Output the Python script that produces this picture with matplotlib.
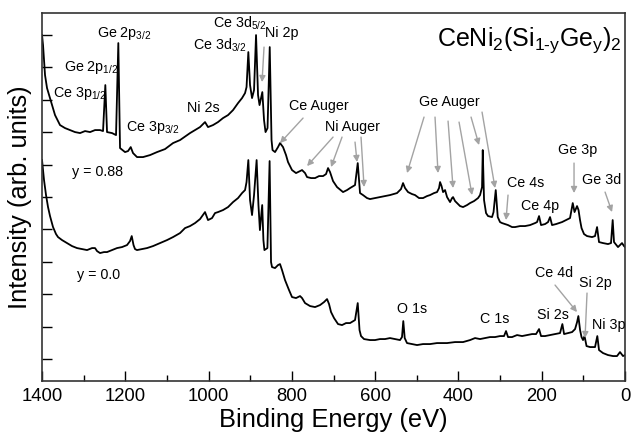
import matplotlib
matplotlib.use("Agg")
import matplotlib.pyplot as plt
from matplotlib.ticker import MultipleLocator, NullFormatter

plt.rcParams['font.family'] = ['Liberation Sans', 'DejaVu Sans']
plt.rcParams['mathtext.fontset'] = 'custom'
plt.rcParams['mathtext.rm'] = 'Liberation Sans'
plt.rcParams['mathtext.it'] = 'Liberation Sans:italic'

### spectrum y = 0.88 (binding energy in eV, intensity in arb. units) ###
be_088 = [1400, 1397.6, 1392.8, 1388, 1380.8, 1368.8, 1356.8, 1344.8, 1332.8, 1320.8,
          1308.7, 1296.7, 1284.7, 1272.7, 1260.7, 1253.5, 1248, 1243.9, 1231.9, 1222.3,
          1216.8, 1212.7, 1200.7, 1193.5, 1187, 1181.5, 1171.9, 1157.4, 1140.6, 1123.8,
          1104.6, 1085.4, 1068.6, 1044.6, 1032.6, 1020.6, 1008.6, 1001.4, 989.4, 977.4,
          965.4, 953.3, 941.3, 929.3, 919.7, 912.5, 908.9, 904.6, 900.5, 895.7,
          890.9, 886.1, 881.3, 877.7, 871, 866.9, 863.3, 858.5, 853.2, 848.9,
          846.5, 840.5, 833.3, 828.5, 821.3, 814.1, 809.3, 799.7, 790.1, 780.4,
          775.6, 768.4, 763.6, 754, 744.4, 734.8, 725.2, 718, 713.2, 708.4,
          701.2, 691.6, 677.2, 667.6, 660.4, 648.4, 641.9, 636.4, 629.2, 619.6,
          612.4, 600.4, 588.4, 576.4, 564.4, 547.6, 538, 533.1, 528.3, 521.1,
          511.5, 504.3, 494.7, 485.1, 475.5, 468.3, 458.7, 451.5, 446.7, 444.2,
          440.6, 437, 432.2, 427.4, 420.2, 415.4, 413, 408.2, 403.4, 396.2,
          389, 379.4, 372.2, 362.6, 353, 348.2, 343.4, 341.7, 338.6, 333.8,
          329, 319.4, 315.8, 310.5, 305.7, 300.2, 295.4, 288.2, 281, 271.3,
          264.1, 252.1, 240.1, 228.1, 216.1, 211.3, 206.5, 201.7, 192.1, 184.9,
          180.1, 175.3, 165.7, 151.3, 141.7, 132.1, 128.5, 125.6, 121.3, 115.3,
          111.7, 108.1, 104.5, 98.5, 91.3, 79.3, 72.1, 67.2, 62.5, 52.9,
          40.9, 33.7, 29.7, 26.5, 16.9, 12.1, 7.3, 2.5, 0]
int_088 = [346, 336, 306, 293, 283, 266, 256, 253, 251, 249,
           248, 250, 249, 251, 251, 250, 296, 249, 248, 246,
           338, 233, 229, 230, 234, 228, 224, 224, 226, 229,
           232, 238, 241, 248, 251, 254, 259, 254, 256, 259,
           263, 266, 271, 278, 283, 288, 294, 329, 296, 283,
           291, 346, 286, 276, 289, 261, 249, 253, 334, 241,
           231, 229, 234, 238, 234, 226, 219, 211, 208, 210,
           211, 208, 204, 203, 203, 205, 205, 207, 213, 209,
           200, 194, 189, 191, 193, 196, 218, 188, 186, 183,
           182, 183, 184, 185, 186, 188, 192, 198, 193, 189,
           187, 186, 183, 183, 185, 186, 188, 189, 193, 199,
           195, 189, 191, 184, 179, 183, 184, 180, 178, 175,
           174, 176, 178, 180, 183, 186, 194, 231, 181, 168,
           165, 164, 169, 191, 164, 159, 158, 157, 156, 154,
           154, 155, 155, 156, 158, 159, 165, 156, 157, 159,
           164, 156, 157, 159, 161, 163, 171, 178, 169, 175,
           171, 161, 153, 147, 145, 144, 145, 154, 139, 138,
           137, 138, 161, 139, 134, 136, 138, 135, 134]

### spectrum y = 0.0 ###
be_000 = [1400, 1395.2, 1390.4, 1385.6, 1380.8, 1373.6, 1366.4, 1361.6, 1352, 1340,
          1328, 1316, 1303.9, 1291.9, 1279.9, 1272.7, 1267.9, 1260.7, 1251.1, 1243.9,
          1231.9, 1219.9, 1207.9, 1195.9, 1188.7, 1184.6, 1180.3, 1176.7, 1171.9, 1159.9,
          1147.9, 1133.4, 1116.6, 1099.8, 1085.4, 1068.6, 1056.6, 1044.6, 1032.6, 1020.6,
          1008.6, 1001.4, 991.8, 984.6, 977.4, 965.4, 953.3, 941.3, 929.3, 919.7,
          912.5, 908.9, 904.6, 900.5, 895.7, 890.9, 884.7, 880.3, 876.8, 871.3,
          868.4, 866, 858.8, 853.5, 850.1, 847.7, 840.5, 833.3, 828.5, 823.7,
          816.5, 806.9, 799.7, 790.1, 780.4, 775.6, 768.4, 756.4, 744.4, 732.4,
          722.8, 715.6, 710.8, 706, 698.8, 689.2, 679.6, 670, 660.4, 648.4,
          641.9, 637.6, 634, 626.8, 612.4, 600.4, 588.4, 576.4, 564.4, 552.4,
          540.4, 535.6, 532.5, 529.1, 523.6, 511.5, 499.5, 485.1, 468.3, 451.5,
          427.4, 408.2, 389, 372.2, 360.2, 348.2, 336.2, 324.2, 312.2, 300.2,
          290.6, 285.8, 281, 271.3, 259.3, 247.3, 235.3, 223.3, 213.7, 206.5,
          201.7, 192.1, 180.1, 168.1, 156.1, 150.5, 146.4, 136.8, 127.2, 120,
          115.2, 112.1, 108, 104.5, 100.9, 97.3, 92.5, 84.1, 72.1, 66.6,
          62.5, 52.9, 40.9, 28.9, 19.3, 12.1, 4.9, 0]
int_000 = [221, 201, 186, 174, 165, 154, 147, 144, 141, 138,
           135, 133, 132, 131, 133, 133, 130, 128, 129, 129,
           131, 133, 134, 136, 140, 145, 136, 132, 131, 132,
           133, 135, 138, 141, 144, 148, 153, 155, 158, 162,
           169, 161, 163, 168, 169, 171, 174, 179, 183, 188,
           191, 199, 221, 181, 166, 186, 221, 176, 151, 176,
           141, 131, 133, 220, 119, 114, 113, 116, 117, 111,
           101, 91, 84, 83, 85, 83, 78, 75, 74, 76,
           79, 82, 77, 69, 63, 57, 56, 58, 58, 61,
           78, 51, 45, 42, 41, 41, 42, 42, 43, 42,
           41, 44, 60, 43, 38, 37, 36, 37, 37, 38,
           38, 39, 39, 41, 43, 42, 43, 44, 44, 45,
           45, 50, 44, 44, 46, 45, 46, 47, 47, 52,
           45, 45, 46, 47, 48, 57, 47, 48, 49, 52,
           59, 65, 51, 44, 41, 45, 35, 34, 34, 45,
           31, 28, 26, 25, 25, 29, 25, 26]

fig = plt.figure(figsize=(6.32, 4.36), dpi=100)
ax = fig.add_axes([0.0665, 0.126, 0.9225, 0.844])

ax.plot(be_088, int_088, color='black', lw=1.3)
ax.plot(be_000, int_000, color='black', lw=1.3)

ax.set_xlim(1400, 0)
ax.set_ylim(0, 368)
ax.xaxis.set_major_locator(MultipleLocator(200))
ax.xaxis.set_minor_locator(MultipleLocator(100))
ax.set_yticks([22 + 32.4 * k for k in range(11)])
ax.yaxis.set_major_formatter(NullFormatter())
ax.tick_params(axis='x', which='major', direction='in', length=7, width=1, labelsize=13.3, pad=5)
ax.tick_params(axis='x', which='minor', direction='in', length=4, width=1)
ax.tick_params(axis='y', which='major', direction='in', length=7, width=1)
for s in ax.spines.values():
    s.set_linewidth(1.2)
    s.set_color('#333333')

ax.set_xlabel('Binding Energy (eV)', fontsize=18.4, labelpad=2)
ax.set_ylabel('Intensity (arb. units)', fontsize=18.4, labelpad=4)

def sub(s):
    return r'$_{\mathregular{' + s + '}}$'

labels = [
    ('Ce 3p' + sub('1/2'), 1373.6, 288),
    ('Ge 2p' + sub('1/2'), 1347.2, 314),
    ('Ge 2p' + sub('3/2'), 1267.9, 348),
    ('Ce 3p' + sub('3/2'), 1198.3, 254),
    ('Ni 2s', 1051.8, 273),
    ('Ce 3d' + sub('3/2'), 1037.4, 336),
    ('Ce 3d' + sub('5/2'), 989.4, 358),
    ('Ni 2p', 864.5, 348),
    ('Ce Auger', 806.9, 275),
    ('Ni Auger', 720.4, 254),
    ('Ge Auger', 494.7, 279),
    ('Ce 4s', 283.3, 198),
    ('Ce 4p', 249.7, 175),
    ('Ge 3p', 160.9, 231),
    ('Ge 3d', 103.2, 201),
    ('y = 0.88', 1328, 209),
    ('y = 0.0', 1316, 106),
    ('O 1s', 547.5, 72),
    ('C 1s', 348.2, 62),
    ('Si 2s', 211.3, 66),
    ('Ce 4d', 216.1, 108),
    ('Si 2p', 110.4, 98),
    ('Ni 3p', 79.2, 56),
]
for txt, x, y in labels:
    ax.text(x, y, txt, fontsize=10.3, ha='left', va='center')

ax.text(451.4, 341, r'CeNi$_{\mathregular{2}}$(Si$_{\mathregular{1\text{-}y}}$Ge$_{\mathregular{y}}$)$_{\mathregular{2}}$',
        fontsize=18, ha='left', va='center')

arrows = [
    ((866.9, 334), (871.7, 299)),
    ((773.2, 263), (828.5, 238)),
    ((701.2, 244), (763.6, 215)),
    ((679.6, 244), (706.0, 214)),
    ((648.4, 239), (643.6, 219)),
    ((634.0, 244), (626.7, 194)),
    ((482.7, 264), (523.5, 208)),
    ((456.3, 264), (449.1, 208)),
    ((425.0, 260), (413.0, 193)),
    ((398.6, 259), (367.4, 186)),
    ((369.8, 264), (350.6, 236)),
    ((343.4, 269), (312.2, 193)),
    ((281.0, 186), (285.8, 161)),
    ((122.5, 218), (122.5, 188)),
    ((48.0, 189), (31.2, 169)),
    ((168.1, 96), (115.3, 69)),
    ((91.3, 88), (96.1, 43)),
]
for start, end in arrows:
    ax.annotate('', xy=end, xytext=start,
                arrowprops=dict(arrowstyle='-|>', color='#a3a3a3', lw=1.0,
                                mutation_scale=9, shrinkA=0, shrinkB=0))

plt.savefig('out.png', dpi=100)
plt.close()
